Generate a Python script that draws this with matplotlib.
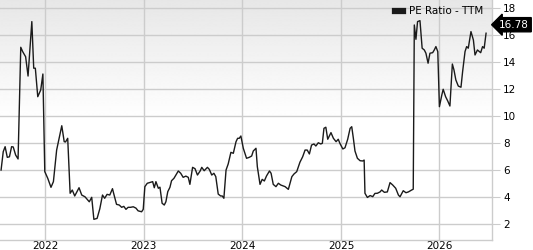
import matplotlib

matplotlib.use("Agg")
import matplotlib.pyplot as plt
import matplotlib.dates as mdates
import numpy as np
import pandas as pd

# PE Ratio (TTM)
DATES = [
    "2021-07-21", "2021-07-29", "2021-08-05", "2021-08-13", "2021-08-21", "2021-08-29",
    "2021-09-04", "2021-09-13", "2021-09-22", "2021-10-02", "2021-10-09", "2021-10-20",
    "2021-10-29", "2021-11-12", "2021-11-19", "2021-11-25", "2021-12-04", "2021-12-15",
    "2021-12-23", "2021-12-30", "2022-01-10", "2022-01-22", "2022-01-31", "2022-02-12",
    "2022-03-03", "2022-03-12", "2022-03-17", "2022-03-25", "2022-04-03", "2022-04-11",
    "2022-04-20", "2022-05-06", "2022-05-16", "2022-05-28", "2022-06-13", "2022-06-22",
    "2022-06-30", "2022-07-12", "2022-07-22", "2022-08-01", "2022-08-09", "2022-08-18",
    "2022-08-28", "2022-09-07", "2022-09-12", "2022-09-22", "2022-10-02", "2022-10-11",
    "2022-10-19", "2022-10-27", "2022-11-04", "2022-11-13", "2022-11-23", "2022-12-03",
    "2022-12-11", "2022-12-24", "2022-12-30", "2023-01-05", "2023-01-14", "2023-01-26",
    "2023-02-03", "2023-02-09", "2023-02-15", "2023-02-24", "2023-03-02", "2023-03-10",
    "2023-03-18", "2023-03-24", "2023-03-31", "2023-04-08", "2023-04-14", "2023-04-23",
    "2023-04-30", "2023-05-09", "2023-05-18", "2023-05-27", "2023-06-06", "2023-06-15",
    "2023-06-21", "2023-07-01", "2023-07-10", "2023-07-19", "2023-07-29", "2023-08-04",
    "2023-08-13", "2023-08-25", "2023-09-01", "2023-09-10", "2023-09-18", "2023-09-25",
    "2023-10-04", "2023-10-13", "2023-10-19", "2023-10-25", "2023-11-02", "2023-11-10",
    "2023-11-20", "2023-11-29", "2023-12-09", "2023-12-15", "2023-12-21", "2023-12-27",
    "2024-01-05", "2024-01-17", "2024-01-27", "2024-02-05", "2024-02-11", "2024-02-21",
    "2024-02-26", "2024-03-07", "2024-03-15", "2024-03-23", "2024-03-31", "2024-04-11",
    "2024-04-17", "2024-04-25", "2024-05-05", "2024-05-14", "2024-05-23", "2024-06-08",
    "2024-06-20", "2024-07-03", "2024-07-11", "2024-07-21", "2024-08-02", "2024-08-12",
    "2024-08-21", "2024-08-29", "2024-09-06", "2024-09-14", "2024-09-23", "2024-09-30",
    "2024-10-09", "2024-10-18", "2024-10-24", "2024-10-30", "2024-11-06", "2024-11-13",
    "2024-11-25", "2024-12-04", "2024-12-14", "2024-12-22", "2024-12-28", "2025-01-08",
    "2025-01-16", "2025-01-26", "2025-02-04", "2025-02-10", "2025-02-16", "2025-02-22",
    "2025-03-03", "2025-03-13", "2025-03-23", "2025-03-28", "2025-03-31", "2025-04-09",
    "2025-04-19", "2025-04-29", "2025-05-07", "2025-05-16", "2025-05-26", "2025-06-01",
    "2025-06-11", "2025-06-22", "2025-07-02", "2025-07-12", "2025-07-23", "2025-08-02",
    "2025-08-08", "2025-08-20", "2025-08-30", "2025-09-08", "2025-09-20", "2025-09-26",
    "2025-09-30", "2025-10-06", "2025-10-12", "2025-10-21", "2025-10-29", "2025-11-06",
    "2025-11-12", "2025-11-20", "2025-11-27", "2025-12-07", "2025-12-13", "2025-12-19",
    "2025-12-26", "2026-01-01", "2026-01-10", "2026-01-15", "2026-01-24", "2026-02-01",
    "2026-02-09", "2026-02-18", "2026-02-24", "2026-03-03", "2026-03-12", "2026-03-22",
    "2026-03-28", "2026-04-06", "2026-04-12", "2026-04-18", "2026-04-28", "2026-05-07",
    "2026-05-13", "2026-05-22", "2026-05-29", "2026-06-03", "2026-06-10", "2026-06-16",
    "2026-06-23",
]
PE_RATIO = [
    6.02, 7.38, 7.75, 6.96, 7.00, 7.75,
    7.73, 7.13, 6.84, 15.11, 14.79, 14.41,
    12.98, 17.01, 13.56, 13.56, 11.45, 11.95,
    13.13, 5.90, 5.41, 4.74, 5.16, 7.50,
    9.30, 8.12, 8.10, 8.37, 4.30, 4.54,
    4.10, 4.71, 4.17, 4.04, 3.67, 4.00,
    2.37, 2.44, 3.15, 4.17, 3.93, 4.22,
    4.17, 4.64, 4.24, 3.48, 3.43, 3.26,
    3.33, 3.11, 3.26, 3.26, 3.30, 3.20,
    3.00, 2.93, 3.11, 4.79, 5.04, 5.11,
    5.16, 4.71, 5.16, 4.67, 4.75, 3.56,
    3.43, 3.67, 4.42, 4.74, 5.23, 5.41,
    5.65, 5.95, 5.78, 5.48, 5.57, 5.48,
    4.96, 6.22, 6.12, 5.65, 5.95, 6.22,
    5.97, 6.22, 6.07, 5.65, 5.78, 5.53,
    4.24, 4.10, 4.10, 3.93, 6.02, 6.47,
    7.33, 7.26, 8.12, 8.37, 8.37, 8.54,
    7.63, 6.89, 6.96, 7.06, 7.43, 7.63,
    6.27, 4.96, 5.33, 5.21, 5.58, 5.95,
    5.78, 4.96, 4.79, 5.04, 4.91, 4.79,
    4.59, 5.53, 5.73, 5.90, 6.60, 7.00,
    7.50, 7.50, 7.21, 7.87, 7.95, 7.80,
    8.04, 7.95, 8.00, 9.11, 9.19, 8.30,
    8.79, 8.37, 8.12, 8.30, 8.00, 7.58,
    7.67, 8.30, 9.11, 9.23, 8.37, 7.43,
    6.89, 6.71, 6.69, 6.76, 4.30, 3.99,
    4.13, 4.05, 4.29, 4.30, 4.40, 4.54,
    4.37, 4.40, 5.09, 4.91, 4.67, 4.17,
    4.04, 4.49, 4.34, 4.40, 4.54, 4.60,
    16.76, 15.70, 17.01, 17.08, 15.04, 14.91,
    14.67, 13.93, 14.67, 14.71, 14.91, 15.16,
    14.79, 10.71, 11.58, 12.00, 11.45, 11.13,
    10.76, 13.87, 13.43, 12.69, 12.24, 12.15,
    13.30, 14.79, 15.16, 15.04, 16.27, 15.65,
    14.54, 14.91, 14.79, 14.71, 15.16, 15.04,
    16.15,
]
LAST_VALUE = 16.78
YEAR_TICKS = ["2022", "2023", "2024", "2025", "2026"]
Y_TICKS = [2, 4, 6, 8, 10, 12, 14, 16, 18]

GRID = "#cccccc"

dates = pd.to_datetime(DATES)
fig = plt.figure(figsize=(5.33, 2.5), dpi=100)
ax = fig.add_axes((0.0, 0.04, 492 / 533, 0.96))

x0, x1 = mdates.date2num(pd.Timestamp("2021-07-17")), mdates.date2num(pd.Timestamp("2026-07-15"))
y0, y1 = 0.84, 18.61

# light grey fade at the top of the plot area (row 0 = bottom)
frac = np.linspace(0, 1, 256)
shade = 1.0 - 0.095 * np.clip((frac - 0.5) / 0.5, 0, 1)
ax.imshow(shade[:, None], cmap="gray", vmin=0, vmax=1, aspect="auto", extent=(x0, x1, y0, y1),
          origin="lower", zorder=0, interpolation="bilinear")

ax.plot(dates, PE_RATIO, color="#1a1a1a", linewidth=1.0, zorder=3, label="PE Ratio - TTM")
ax.set_xlim(x0, x1)
ax.set_ylim(y0, y1)

ax.set_xticks([mdates.date2num(pd.Timestamp(f"{y}-01-01")) for y in YEAR_TICKS])
ax.set_xticklabels(YEAR_TICKS)
ax.set_yticks(Y_TICKS)
ax.yaxis.tick_right()
ax.tick_params(axis="y", length=6, color=GRID, pad=2, labelsize=7.5)
ax.tick_params(axis="x", length=0, pad=1, labelsize=7.5)
ax.grid(True, color=GRID, linewidth=1.0, zorder=1)
ax.set_axisbelow(True)
for side in ["left", "top"]:
    ax.spines[side].set_visible(False)
for side in ["right", "bottom"]:
    ax.spines[side].set_color(GRID)
    ax.spines[side].set_linewidth(1.0)

leg = ax.legend(loc="upper right", bbox_to_anchor=(0.995, 1.0), frameon=False, fontsize=7.5,
                handlelength=0.7, handleheight=0.6, handletextpad=0.6, borderaxespad=0.2)
for h in leg.legend_handles:
    h.set_linewidth(4.5)

ax.annotate(f"{LAST_VALUE:.2f}", xy=(1.0, LAST_VALUE), xycoords=("axes fraction", "data"),
            xytext=(16, 0), textcoords="offset points", ha="center", va="center",
            color="white", fontsize=7.5, annotation_clip=False,
            bbox=dict(boxstyle="larrow,pad=0.2", fc="black", ec="black"))

fig.savefig("out.png", dpi=100)
